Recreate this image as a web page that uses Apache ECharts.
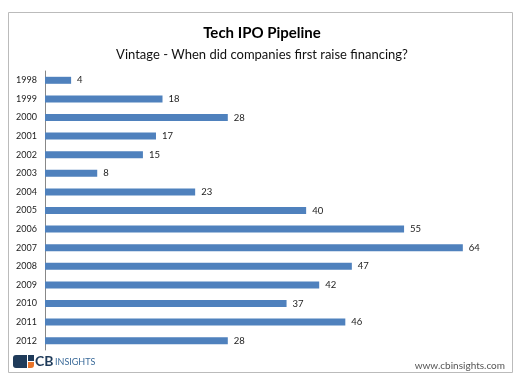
<!DOCTYPE html>
<html><head><meta charset="utf-8">
<script src="https://cdn.jsdelivr.net/npm/echarts@6/dist/echarts.min.js"></script>
<style>html,body{margin:0;padding:0;background:#fff}#c{width:524px;height:384px}</style>
</head><body><div id="c"></div>
<script>
const titleText = 'Tech IPO Pipeline';
const subtitleText = 'Vintage - When did companies first raise financing?';
const years = ['1998','1999','2000','2001','2002','2003','2004','2005','2006','2007','2008','2009','2010','2011','2012'];
const companies = [4,18,28,17,15,8,23,40,55,64,47,42,37,46,28];
const sourceText = 'www.cbinsights.com';

const chart = echarts.init(document.getElementById('c'), null, {renderer:'canvas'});
const F = 'Lato, "Open Sans", sans-serif';
chart.setOption({
  animation:false,
  title:[
    {text:titleText,left:'center',top:21,textStyle:{fontFamily:F,fontSize:15,fontWeight:'bold',color:'#000'}},
    {text:subtitleText,left:'center',top:43,textStyle:{fontFamily:F,fontSize:13,fontWeight:'normal',color:'#111'}}
  ],
  grid:{left:45,right:22,top:71,bottom:34,containLabel:false},
  xAxis:{type:'value',min:0,max:70,show:false},
  yAxis:{type:'category',data:years,inverse:true,
    axisLine:{show:true,lineStyle:{color:'#888',width:1}},
    axisTick:{show:false},
    axisLabel:{fontFamily:F,fontSize:9,color:'#222',margin:8}},
  series:[{type:'bar',data:companies,barWidth:7,
    itemStyle:{color:'#4F81BD'},
    label:{show:true,position:'right',distance:6,fontFamily:F,fontSize:9.5,color:'#222'}}],
  graphic:[
    {type:'rect',shape:{x:8.5,y:12.5,width:504,height:360},style:{fill:'none',stroke:'#bbb',lineWidth:1},silent:true,z:-1},
    {type:'rect',shape:{x:13,y:355,width:14,height:13,r:[3,0,0,3]},style:{fill:'#1f3b5a'}},
    {type:'rect',shape:{x:28,y:355,width:6,height:6},style:{fill:'#1f3b5a'}},
    {type:'rect',shape:{x:28,y:362,width:6,height:6,r:[0,0,3,0]},style:{fill:'#e8742a'}},
    {type:'text',left:35,top:354,style:{text:'CB',font:'bold 14px '+F,fill:'#1f3b5a'}},
    {type:'text',left:55,top:358,style:{text:'INSIGHTS',font:'9px '+F,fill:'#3a6a99'}},
    {type:'text',right:19,top:361,style:{text:sourceText,font:'10px '+F,fill:'#555'}}
  ]
});
</script></body></html>
